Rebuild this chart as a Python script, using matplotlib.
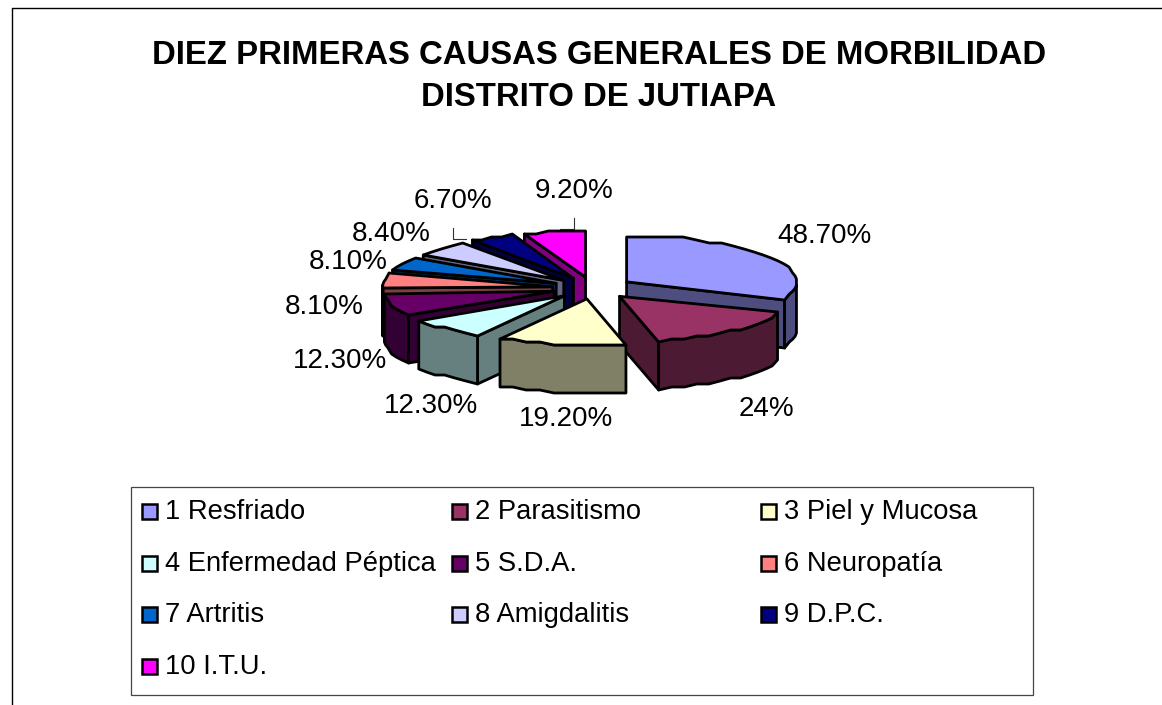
#!/usr/bin/env python

import numpy as np
import matplotlib
matplotlib.use('Agg')
import matplotlib.pyplot as plt
from matplotlib.patches import Polygon, Rectangle

plt.rcParams['font.family'] = ['Liberation Sans', 'DejaVu Sans']

# chart data
causes = ['1 Resfriado', '2 Parasitismo', '3 Piel y Mucosa',
          '4 Enfermedad Péptica', '5 S.D.A.', '6 Neuropatía',
          '7 Artritis', '8 Amigdalitis', '9 D.P.C.', '10 I.T.U.']
values = [48.7, 24, 19.2, 12.3, 12.3, 8.1, 8.1, 8.4, 6.7, 9.2]
value_labels = ['48.70%', '24%', '19.20%', '12.30%', '12.30%',
                '8.10%', '8.10%', '8.40%', '6.70%', '9.20%']
colors = ['#9999FF', '#993366', '#FFFFCC', '#CCFFFF', '#660066',
          '#FF8080', '#0066CC', '#CCCCFF', '#000080', '#FF00FF']

W, H = 1162, 705
cx, cy = 593, 288
rx, ry = 170, 46
explode = 40.6
squash = ry / rx
depth = 48

label_pos = [(825, 236), (766, 409), (566, 419), (431, 406), (340, 361),
             (324, 307), (348, 262), (391, 234), (453, 201), (574, 191)]

fig = plt.figure(figsize=(W / 100, H / 100), dpi=100)
ax = fig.add_axes([0, 0, 1, 1])
ax.set_xlim(0, W)
ax.set_ylim(H, 0)
ax.axis('off')

# outer frame, only left and top are there
ax.plot([12, 12, W], [H, 8, 8], color='black', lw=1)


def wedge(a0, a1):
    # top face of one exploded slice, angles clockwise from 12 o'clock
    mid = (a0 + a1) / 2
    ox = cx + explode * np.sin(mid)
    oy = cy - explode * squash * np.cos(mid)
    t = np.linspace(a0, a1, max(3, int(np.degrees(a1 - a0) / 5) + 2))
    xs = ox + rx * np.sin(t)
    ys = oy - ry * np.cos(t)
    # the rim is stepped in the original
    ys = np.round(ys / 3) * 3
    return np.array([ox, oy]), np.column_stack([xs, ys])


def side(pts, rgb, z):
    down = [p + [0, depth] for p in pts]
    quad = list(pts) + down[::-1]
    ax.add_patch(Polygon(quad, closed=True, fc=rgb * 0.5, ec='black', lw=2,
                         joinstyle='round', zorder=z))


def draw_slice(apex, rim, color, z):
    rgb = np.array(matplotlib.colors.to_rgb(color))
    # screen clockwise: an edge faces the viewer when it runs leftwards
    if rim[0][0] < apex[0]:
        side([apex, rim[0]], rgb, z)
    if rim[-1][0] > apex[0]:
        side([rim[-1], apex], rgb, z)
    run = []
    for i in range(len(rim) - 1):
        if rim[i + 1][0] < rim[i][0]:
            if not run:
                run.append(rim[i])
            run.append(rim[i + 1])
    if run:
        side(run, rgb, z + 0.1)
    top = np.vstack([apex, rim])
    ax.add_patch(Polygon(top, closed=True, fc=color, ec='black', lw=2,
                         joinstyle='round', zorder=z + 0.2))


angles = np.cumsum([0] + values) / sum(values) * 2 * np.pi
# back slices first, front slices last
order = [9, 8, 7, 6, 5, 4, 3, 0, 1, 2]
for z, i in enumerate(order):
    apex, rim = wedge(angles[i], angles[i + 1])
    draw_slice(apex, rim, colors[i], 2 + z)

# leader lines
ax.plot([574, 574, 560], [218, 229, 229], color='#333333', lw=0.8, zorder=1)
ax.plot([453, 453, 466], [228, 239, 239], color='#333333', lw=0.8, zorder=1)

for (x, y), s in zip(label_pos, value_labels):
    ax.text(x, y, s, fontsize=20, ha='center', va='center', zorder=30)

ax.text(599, 55, 'DIEZ PRIMERAS CAUSAS GENERALES DE MORBILIDAD', fontsize=23.7,
        fontweight='bold', ha='center', va='center')
ax.text(599, 97, 'DISTRITO DE JUTIAPA', fontsize=23.7, fontweight='bold',
        ha='center', va='center')

# legend
ax.add_patch(Rectangle((131, 487), 902, 208, fc='white', ec='#444444', lw=0.9))
col_x = [142, 452, 761]
row_y = [511, 563, 614, 666]
for i, name in enumerate(causes):
    x = col_x[i % 3]
    y = row_y[i // 3]
    ax.add_patch(Rectangle((x, y - 7), 15, 15, fc=colors[i], ec='black', lw=1.8))
    ax.text(x + 23, y + 1, name, fontsize=19.7, ha='left', va='center')

fig.savefig('out.png', dpi=100)
